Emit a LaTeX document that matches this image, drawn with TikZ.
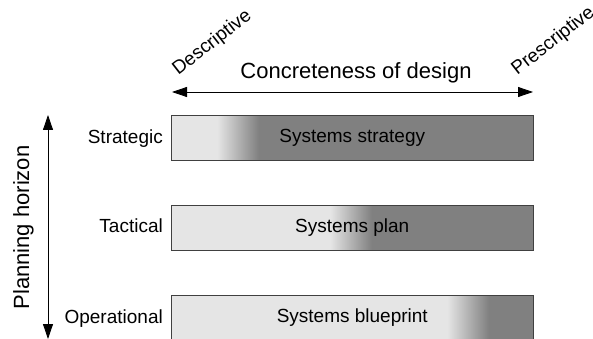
\documentclass[tikz,border=0pt]{standalone}
\usepackage{fontspec}
\setmainfont{Liberation Sans}
\usetikzlibrary{positioning, arrows.meta, backgrounds}

\definecolor{barlight}{gray}{0.9}
\definecolor{bardark}{gray}{0.5}

\begin{document}
\begin{tikzpicture}[x=1pt, y=-1pt, >={Triangle[length=15pt,width=10pt]}, line width=0.8pt,
    bar/.style={draw=black!75, line width=0.6pt, minimum width=361.5pt, minimum height=45pt, inner sep=0pt, font=\fontsize{19}{22}\selectfont},
    level/.style={inner sep=0pt, text height=14pt, text depth=4pt, font=\fontsize{19}{22}\selectfont},
    tag/.style={inner sep=0pt, anchor=base west, rotate=38, font=\fontsize{19}{22}\selectfont},
    big/.style={inner sep=0pt, font=\fontsize{22}{26}\selectfont}]
    \useasboundingbox (0,0) rectangle (593,339);

    \node[bar] (strat) at (352.25,138) {Systems strategy};
    \node[bar] (tact) at (352.25,227.5) {Systems plan};
    \node[bar] (oper) at (352.25,318) {Systems blueprint};

    % light part, fade in 43 stripes, dark part
    \begin{scope}[on background layer]
    \foreach \b/\s in {strat/46, tact/159, oper/276} {
        \fill[barlight] (\b.south west) rectangle ([xshift=\s pt]\b.north west);
        \fill[bardark] ([xshift=\s pt+43pt]\b.south west) rectangle (\b.north east);
        \foreach \i [evaluate=\i as \p using 100*\i/42] in {0,...,42}
            \fill[bardark!\p!barlight] ([xshift=\s pt+\i pt]\b.south west) rectangle ([xshift=\s pt+\i pt+1.2pt]\b.north west);
    }
    \end{scope}

    \node[level, left=8pt of strat] (lstrat) {Strategic};
    \node[level, left=8pt of tact] (ltact) {Tactical};
    \node[level, left=8pt of oper] (loper) {Operational};

    \coordinate (dl) at (172,92);
    \coordinate (dr) at (533,92);
    \coordinate (ht) at (48,115);
    \coordinate (hb) at (48,339);
    \draw[<->] (dl) -- (dr);
    \draw[<->] (ht) -- (hb);

    \node[big, anchor=base] (conc) at (356,79) {Concreteness of design};
    \node[big, anchor=base, rotate=90] (horizon) at (29,227.5) {Planning horizon};
    \node[tag] (desc) at (178,76) {Descriptive};
    \node[tag] (presc) at (517,76) {Prescriptive};
\end{tikzpicture}
\end{document}
